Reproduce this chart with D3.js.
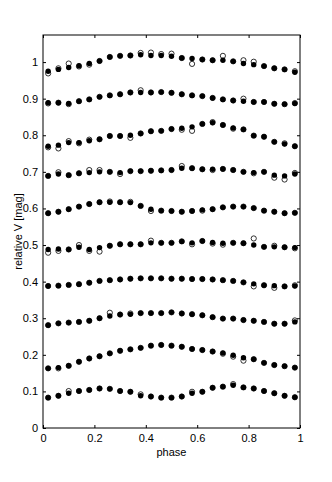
<!DOCTYPE html>
<html>
<head>
<meta charset="utf-8">
<script src="https://cdn.jsdelivr.net/npm/d3@7"></script>
<style>
  body { margin: 0; background: #fff; }
  svg { display: block; font-family: "Liberation Sans", Arial, sans-serif; }
</style>
</head>
<body>
<div id="chart"></div>
<script>
// phase of each bin
const phases = [0.02, 0.06, 0.10, 0.14, 0.18, 0.22, 0.26, 0.30, 0.34, 0.38, 0.42, 0.46, 0.50,
  0.54, 0.58, 0.62, 0.66, 0.70, 0.74, 0.78, 0.82, 0.86, 0.90, 0.94, 0.98];

// filled dots, one curve per row (top to bottom)
const filled1 = [0.975, 0.980, 0.985, 0.990, 0.996, 1.003, 1.014, 1.017, 1.018, 1.020, 1.018, 1.018, 1.016,
  1.011, 1.010, 1.007, 1.005, 1.005, 1.002, 0.996, 0.993, 0.989, 0.983, 0.980, 0.972];
const filled2 = [0.889, 0.889, 0.887, 0.893, 0.898, 0.905, 0.909, 0.912, 0.917, 0.917, 0.917, 0.918, 0.916,
  0.912, 0.909, 0.907, 0.902, 0.898, 0.895, 0.893, 0.891, 0.891, 0.886, 0.885, 0.887];
const filled3 = [0.770, 0.773, 0.780, 0.780, 0.785, 0.789, 0.798, 0.798, 0.800, 0.805, 0.811, 0.812, 0.817,
  0.819, 0.823, 0.831, 0.834, 0.828, 0.820, 0.816, 0.799, 0.796, 0.782, 0.776, 0.770];
const filled4 = [0.689, 0.694, 0.691, 0.696, 0.698, 0.700, 0.700, 0.698, 0.702, 0.702, 0.703, 0.704, 0.705,
  0.710, 0.710, 0.707, 0.707, 0.708, 0.705, 0.700, 0.698, 0.700, 0.691, 0.689, 0.694];
const filled5 = [0.587, 0.591, 0.598, 0.605, 0.612, 0.617, 0.617, 0.617, 0.616, 0.607, 0.598, 0.594, 0.593,
  0.591, 0.593, 0.596, 0.598, 0.603, 0.605, 0.605, 0.601, 0.594, 0.591, 0.587, 0.588];
const filled6 = [0.488, 0.489, 0.488, 0.494, 0.488, 0.493, 0.498, 0.502, 0.502, 0.502, 0.506, 0.506, 0.506,
  0.510, 0.506, 0.511, 0.507, 0.505, 0.506, 0.505, 0.500, 0.495, 0.495, 0.494, 0.493];
const filled7 = [0.388, 0.389, 0.391, 0.393, 0.397, 0.402, 0.404, 0.406, 0.408, 0.409, 0.409, 0.409, 0.408,
  0.408, 0.407, 0.407, 0.406, 0.404, 0.402, 0.398, 0.394, 0.390, 0.389, 0.387, 0.388];
const filled8 = [0.281, 0.286, 0.288, 0.290, 0.293, 0.300, 0.306, 0.310, 0.311, 0.314, 0.314, 0.314, 0.316,
  0.313, 0.311, 0.308, 0.303, 0.299, 0.299, 0.295, 0.293, 0.290, 0.285, 0.285, 0.290];
const filled9 = [0.163, 0.165, 0.170, 0.181, 0.190, 0.196, 0.204, 0.211, 0.215, 0.219, 0.225, 0.227, 0.225,
  0.222, 0.216, 0.213, 0.209, 0.205, 0.199, 0.192, 0.188, 0.178, 0.172, 0.169, 0.165];
const filled10 = [0.083, 0.088, 0.095, 0.101, 0.104, 0.108, 0.107, 0.101, 0.099, 0.088, 0.086, 0.083, 0.083,
  0.086, 0.095, 0.099, 0.110, 0.113, 0.117, 0.111, 0.108, 0.101, 0.095, 0.088, 0.084];

// open circles, same rows
const open1 = [0.969, 0.983, 0.996, 0.988, 0.993, 1.003, 1.014, 1.017, 1.018, 1.025, 1.026, 1.022, 1.023,
  1.011, 0.995, 1.007, 1.005, 1.017, 1.002, 1.005, 1.001, 0.989, 0.983, 0.980, 0.975];
const open2 = [0.887, 0.889, 0.885, 0.893, 0.898, 0.905, 0.909, 0.912, 0.917, 0.923, 0.917, 0.918, 0.916,
  0.912, 0.909, 0.907, 0.902, 0.898, 0.895, 0.900, 0.891, 0.891, 0.886, 0.885, 0.888];
const open3 = [0.767, 0.764, 0.784, 0.778, 0.788, 0.789, 0.798, 0.798, 0.793, 0.805, 0.811, 0.812, 0.817,
  0.815, 0.812, 0.831, 0.836, 0.828, 0.818, 0.816, 0.799, 0.796, 0.782, 0.778, 0.770];
const open4 = [0.689, 0.699, 0.691, 0.696, 0.705, 0.705, 0.700, 0.694, 0.702, 0.702, 0.703, 0.704, 0.705,
  0.716, 0.710, 0.707, 0.705, 0.708, 0.705, 0.700, 0.696, 0.700, 0.684, 0.679, 0.697];
const open5 = [0.587, 0.591, 0.598, 0.605, 0.612, 0.617, 0.619, 0.617, 0.618, 0.607, 0.593, 0.594, 0.593,
  0.591, 0.593, 0.594, 0.598, 0.603, 0.605, 0.605, 0.601, 0.594, 0.591, 0.587, 0.588];
const open6 = [0.479, 0.484, 0.488, 0.500, 0.484, 0.482, 0.498, 0.502, 0.502, 0.502, 0.512, 0.506, 0.506,
  0.510, 0.502, 0.511, 0.504, 0.501, 0.506, 0.505, 0.518, 0.495, 0.498, 0.494, 0.491];
const open7 = [0.388, 0.389, 0.391, 0.393, 0.397, 0.402, 0.404, 0.406, 0.408, 0.409, 0.409, 0.409, 0.408,
  0.408, 0.407, 0.407, 0.406, 0.404, 0.402, 0.398, 0.387, 0.390, 0.383, 0.387, 0.390];
const open8 = [0.281, 0.286, 0.288, 0.290, 0.293, 0.300, 0.315, 0.310, 0.313, 0.314, 0.314, 0.314, 0.316,
  0.313, 0.311, 0.308, 0.303, 0.299, 0.299, 0.295, 0.293, 0.290, 0.285, 0.285, 0.294];
const open9 = [0.163, 0.163, 0.170, 0.181, 0.190, 0.196, 0.204, 0.211, 0.215, 0.219, 0.225, 0.227, 0.225,
  0.222, 0.216, 0.213, 0.209, 0.203, 0.195, 0.184, 0.188, 0.178, 0.172, 0.169, 0.165];
const open10 = [0.083, 0.088, 0.101, 0.101, 0.104, 0.108, 0.107, 0.101, 0.099, 0.092, 0.086, 0.083, 0.083,
  0.086, 0.099, 0.099, 0.110, 0.113, 0.120, 0.111, 0.108, 0.101, 0.095, 0.088, 0.084];

const filledRows = [filled1, filled2, filled3, filled4, filled5, filled6, filled7, filled8, filled9, filled10];
const openRows = [open1, open2, open3, open4, open5, open6, open7, open8, open9, open10];

const xTicks = [0, 0.2, 0.4, 0.6, 0.8, 1];
const yTicks = [0, 0.1, 0.2, 0.3, 0.4, 0.5, 0.6, 0.7, 0.8, 0.9, 1];

const width = 332, height = 482;
const margin = { top: 35, right: 32, bottom: 54, left: 43 };
const innerW = width - margin.left - margin.right;
const innerH = height - margin.top - margin.bottom;

const x = d3.scaleLinear().domain([0, 1]).range([0, innerW]);
const y = d3.scaleLinear().domain([0, 1.074]).range([innerH, 0]);

const svg = d3.select("#chart").append("svg")
  .attr("width", width)
  .attr("height", height);

const g = svg.append("g").attr("transform", `translate(${margin.left},${margin.top})`);

// axes, MATLAB style: ticks inside on all four sides
const tick = 3;
const axBottom = g.append("g").attr("transform", `translate(0,${innerH})`)
  .call(d3.axisBottom(x).tickValues(xTicks).tickSize(-tick).tickPadding(6).tickFormat(d3.format("")));
const axTop = g.append("g")
  .call(d3.axisTop(x).tickValues(xTicks).tickSize(-tick).tickFormat(""));
const axLeft = g.append("g")
  .call(d3.axisLeft(y).tickValues(yTicks).tickSize(-tick).tickPadding(5).tickFormat(d3.format("")));
const axRight = g.append("g").attr("transform", `translate(${innerW},0)`)
  .call(d3.axisRight(y).tickValues(yTicks).tickSize(-tick).tickFormat(""));

[axBottom, axTop, axLeft, axRight].forEach(a => {
  a.select(".domain").remove();
  a.selectAll("line").attr("stroke", "#000");
  a.selectAll("text").attr("fill", "#000").style("font-size", "11px")
    .style("font-family", '"Liberation Sans", Arial, sans-serif');
});

g.append("rect")
  .attr("width", innerW)
  .attr("height", innerH)
  .attr("fill", "none")
  .attr("stroke", "#000")
  .attr("stroke-width", 1);

// data
openRows.forEach(row => {
  g.append("g").selectAll("circle")
    .data(row)
    .join("circle")
    .attr("cx", (d, i) => x(phases[i]))
    .attr("cy", d => y(d))
    .attr("r", 2.6)
    .attr("fill", "#fff")
    .attr("stroke", "#000")
    .attr("stroke-width", 0.8);
});

filledRows.forEach(row => {
  g.append("g").selectAll("circle")
    .data(row)
    .join("circle")
    .attr("cx", (d, i) => x(phases[i]))
    .attr("cy", d => y(d))
    .attr("r", 2.7)
    .attr("fill", "#000");
});

// labels
svg.append("text")
  .attr("x", margin.left + innerW / 2)
  .attr("y", 456)
  .attr("text-anchor", "middle")
  .style("font-size", "11px")
  .text("phase");

svg.append("text")
  .attr("transform", `translate(22,${margin.top + innerH / 2}) rotate(-90)`)
  .attr("text-anchor", "middle")
  .style("font-size", "11px")
  .text("relative V [mag]");
</script>
</body>
</html>
